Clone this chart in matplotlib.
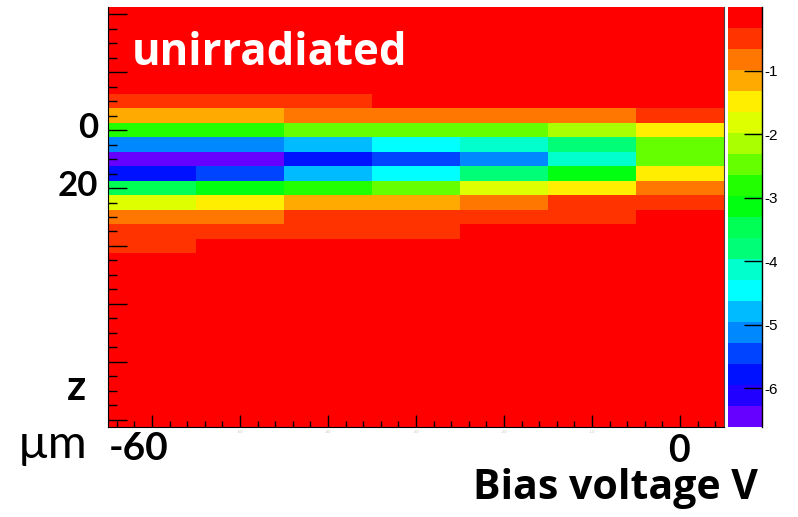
import numpy as np
import matplotlib
matplotlib.use("Agg")
import matplotlib.pyplot as plt
from matplotlib.colors import ListedColormap, BoundaryNorm

plt.rcParams['axes.unicode_minus'] = False

# bin centres
bias_v = [-60, -50, -40, -30, -20, -10, 0]
depth_um = [-40, -35, -30, -25, -20, -15, -10, -5, 0, 5, 10, 15, 20, 25, 30,
            35, 40, 45, 50, 55, 60, 65, 70, 75, 80, 85, 90, 95, 100]

# log10 signal per (depth row, bias column)
log_signal = [
    [-0.1, -0.1, -0.1, -0.1, -0.1, -0.1, -0.1],
    [-0.1, -0.1, -0.1, -0.1, -0.1, -0.1, -0.1],
    [-0.1, -0.1, -0.1, -0.1, -0.1, -0.1, -0.1],
    [-0.1, -0.1, -0.1, -0.1, -0.1, -0.1, -0.1],
    [-0.1, -0.1, -0.1, -0.1, -0.1, -0.1, -0.1],
    [-0.1, -0.1, -0.1, -0.1, -0.1, -0.1, -0.1],
    [-0.5, -0.5, -0.5, -0.1, -0.1, -0.1, -0.1],
    [-1.2, -1.2, -0.8, -0.8, -0.8, -0.8, -0.5],
    [-2.8, -2.8, -2.5, -2.5, -2.5, -2.1, -1.5],
    [-5.1, -5.1, -4.8, -4.5, -4.1, -3.8, -2.5],
    [-6.4, -6.4, -5.8, -5.4, -5.1, -4.1, -2.5],
    [-5.8, -5.4, -4.8, -4.5, -3.8, -3.1, -1.5],
    [-3.5, -3.1, -2.8, -2.5, -1.8, -1.5, -0.8],
    [-1.8, -1.5, -1.2, -1.2, -0.8, -0.5, -0.5],
    [-0.8, -0.8, -0.5, -0.5, -0.5, -0.5, -0.1],
    [-0.5, -0.5, -0.5, -0.5, -0.1, -0.1, -0.1],
    [-0.5, -0.1, -0.1, -0.1, -0.1, -0.1, -0.1],
    [-0.1, -0.1, -0.1, -0.1, -0.1, -0.1, -0.1],
    [-0.1, -0.1, -0.1, -0.1, -0.1, -0.1, -0.1],
    [-0.1, -0.1, -0.1, -0.1, -0.1, -0.1, -0.1],
    [-0.1, -0.1, -0.1, -0.1, -0.1, -0.1, -0.1],
    [-0.1, -0.1, -0.1, -0.1, -0.1, -0.1, -0.1],
    [-0.1, -0.1, -0.1, -0.1, -0.1, -0.1, -0.1],
    [-0.1, -0.1, -0.1, -0.1, -0.1, -0.1, -0.1],
    [-0.1, -0.1, -0.1, -0.1, -0.1, -0.1, -0.1],
    [-0.1, -0.1, -0.1, -0.1, -0.1, -0.1, -0.1],
    [-0.1, -0.1, -0.1, -0.1, -0.1, -0.1, -0.1],
    [-0.1, -0.1, -0.1, -0.1, -0.1, -0.1, -0.1],
    [-0.1, -0.1, -0.1, -0.1, -0.1, -0.1, -0.1],
]

z_min, z_max = -6.61, 0.0
n_levels = 20
# ROOT-like rainbow palette, lowest level first
palette = ['#6600ff', '#2200ff', '#0011ff', '#0044ff', '#0088ff', '#00bbff',
           '#00ffff', '#00ffcc', '#00ff77', '#00ff55', '#00ff11', '#22ff00',
           '#66ff00', '#aaff00', '#ddff00', '#ffee00', '#ffaa00', '#ff7700',
           '#ff3300', '#ff0000']
cbar_ticks = [-6, -5, -4, -3, -2, -1]
x_tick_labels = ['', '-50', '-40', '-30', '-20', '-10', '']

W, H = 798, 517
fig = plt.figure(figsize=(W / 100, H / 100), dpi=100)
ax = fig.add_axes([108 / W, 90 / H, 616 / W, 420 / H])
cax = fig.add_axes([728 / W, 90 / H, 34 / W, 420 / H])

x_edges = np.append(np.array(bias_v) - 5, bias_v[-1] + 5)
y_edges = np.append(np.array(depth_um) - 2.5, depth_um[-1] + 2.5)

cmap = ListedColormap(palette)
norm = BoundaryNorm(np.linspace(z_min, z_max, n_levels + 1), cmap.N)
mesh = ax.pcolormesh(x_edges, y_edges, np.array(log_signal), cmap=cmap, norm=norm)

ax.set_xlim(x_edges[0], x_edges[-1])
ax.set_ylim(y_edges[-1], y_edges[0])  # depth grows downward

ax.set_xticks(bias_v)
ax.set_xticklabels(x_tick_labels)
ax.set_xticks(np.arange(-64, 5, 2), minor=True)
ax.set_yticks([-40, -20, 0, 20, 40, 60, 80, 100])
ax.set_yticks(depth_um, minor=True)
ax.tick_params(axis='x', which='major', direction='in', length=8.6, width=1,
               labelsize=3, labelcolor='#c8c8c8', pad=2)
ax.tick_params(axis='x', which='minor', direction='in', length=4.3, width=1)
ax.tick_params(axis='y', which='major', direction='in', length=13.7, width=1,
               labelleft=False)
ax.tick_params(axis='y', which='minor', direction='in', length=6.5, width=1)
ax.spines['top'].set_visible(False)
ax.spines['right'].set_linewidth(0.8)
ax.spines['right'].set_color('#444444')

cb = fig.colorbar(mesh, cax=cax, ticks=cbar_ticks)
cb.outline.set_visible(False)
cax.plot([1, 1], [0, 1], transform=cax.transAxes, color='black', lw=1, clip_on=False)
cax.yaxis.set_ticks_position('right')
cax.tick_params(axis='y', which='major', direction='in', length=13, width=1,
                labelsize=11, pad=2)
cax.minorticks_off()
for t in cax.get_yticklabels():
    t.set_fontfamily('Liberation Sans')

def px(x, y):
    return x / W, 1 - y / H

fig.text(*px(132, 65), 'unirradiated', color='white', fontsize=31.5,
         fontweight='bold', family='Open Sans', va='baseline', ha='left')
fig.text(*px(473, 499), 'Bias voltage V', color='black', fontsize=29.5,
         fontweight='bold', family='Open Sans', va='baseline', ha='left')
fig.text(*px(18, 458), 'µm', color='black', fontsize=34,
         family='Lato', va='baseline', ha='left')
fig.text(*px(109, 460), '-60', color='black', fontsize=28,
         fontweight='bold', family='Lato', va='baseline', ha='left')
fig.text(*px(679, 462), '0', color='black', fontsize=27,
         fontweight='bold', family='Lato', va='baseline', ha='center')
fig.text(*px(86, 400), 'z', color='black', fontsize=30,
         fontweight='bold', family='Lato', va='baseline', ha='right')
fig.text(*px(98, 138), '0', color='black', fontsize=25,
         fontweight='bold', family='Lato', va='baseline', ha='right')
fig.text(*px(98, 196), '20', color='black', fontsize=25,
         fontweight='bold', family='Lato', va='baseline', ha='right')

fig.savefig('out.png', dpi=100)
